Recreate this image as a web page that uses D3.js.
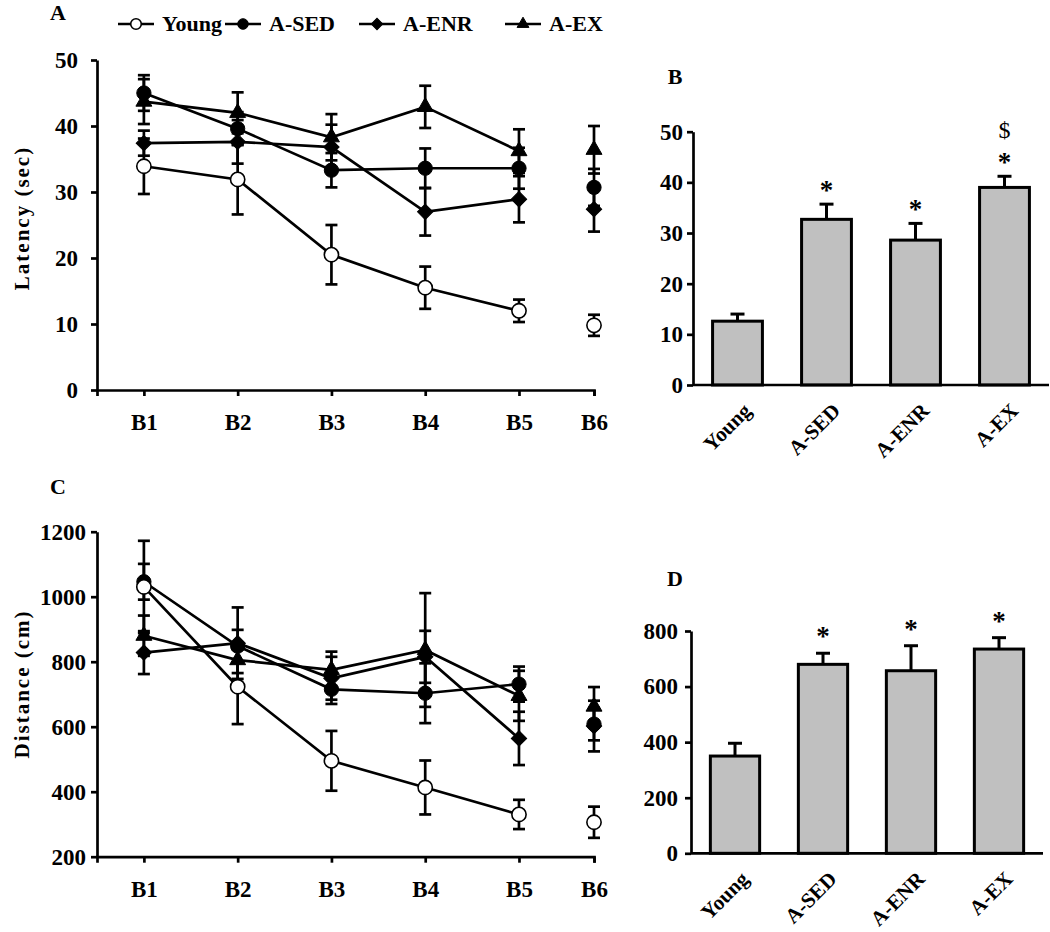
<!DOCTYPE html>
<html><head><meta charset="utf-8">
<script src="https://cdn.jsdelivr.net/npm/d3@7"></script>
<style>
body{margin:0;background:#fff}
svg text{font-family:"Liberation Serif","Times New Roman",serif;font-weight:bold;fill:#000}
</style></head><body>
<svg id="chart" width="1050" height="932"></svg>
<script>
// ---------- data ----------
const sessions = ["B1", "B2", "B3", "B4", "B5", "B6"];
const sessionPos = [1, 2, 3, 4, 5, 5.8];
const groups = ["Young", "A-SED", "A-ENR", "A-EX"];

const latencyTicks = [0, 10, 20, 30, 40, 50];
const youngLatency = [33.9, 31.9, 20.5, 15.5, 12.0, 9.8];
const youngLatencySem = [4.2, 5.3, 4.5, 3.2, 1.7, 1.6];
const sedLatency = [45.0, 39.6, 33.3, 33.6, 33.6, 30.7];
const sedLatencySem = [2.7, 2.5, 2.6, 3.0, 3.1, 2.8];
const enrLatency = [37.4, 37.6, 36.8, 27.0, 28.9, 27.4];
const enrLatencySem = [1.9, 3.3, 3.4, 3.6, 3.5, 3.4];
const exLatency = [43.7, 42.0, 38.3, 42.9, 36.2, 36.4];
const exLatencySem = [3.4, 3.1, 3.5, 3.2, 3.3, 3.6];

const distanceTicks = [200, 400, 600, 800, 1000, 1200];
const youngDistance = [1030, 723, 495, 413, 330, 306];
const youngDistanceSem = [142, 115, 92, 83, 45, 48];
const sedDistance = [1046, 848, 715, 703, 731, 608];
const sedDistanceSem = [55, 50, 45, 92, 54, 50];
const enrDistance = [828, 857, 749, 815, 564, 602];
const enrDistanceSem = [66, 110, 66, 80, 82, 78];
const exDistance = [880, 805, 775, 836, 695, 662];
const exDistanceSem = [62, 40, 56, 175, 77, 60];

const avgLatencyTicks = [0, 10, 20, 30, 40, 50];
const avgLatency = [12.6, 32.7, 28.6, 39.0];
const avgLatencySem = [1.4, 3.0, 3.3, 2.2];
const avgLatencyMark1 = ["", "*", "*", "*"];
const avgLatencyMark2 = ["", "", "", "$"];

const avgDistanceTicks = [0, 200, 400, 600, 800];
const avgDistance = [350, 680, 657, 735];
const avgDistanceSem = [46, 40, 90, 41];
const avgDistanceMark1 = ["", "*", "*", "*"];

// ---------- styles ----------
const markerTypes = ["openCircle", "circle", "diamond", "triangle"];
const SW = 2.7;
const fmt = d3.format("d");
const svg = d3.select("#chart");

function markerPath(type, big) {
  const k = big ? 1 : 0.55;
  if (type === "diamond") return d3.symbol(d3.symbolSquare, 118 * k)();
  if (type === "triangle") return d3.symbol(d3.symbolTriangle, 110 * k)();
  return d3.symbol(d3.symbolCircle, 160 * k)();
}
function drawMarker(g, type, cx, cy, big) {
  g.append("path")
    .attr("d", markerPath(type, big))
    .attr("transform", `translate(${cx},${cy})` + (type === "diamond" ? " rotate(45)" : ""))
    .attr("fill", type === "openCircle" ? "#fff" : "#000")
    .attr("stroke", "#000")
    .attr("stroke-width", type === "openCircle" ? 1.6 : 1);
}
function styleAxis(ax, fs) {
  ax.attr("font-family", null).attr("font-size", null);
  ax.selectAll("path.domain").attr("stroke-width", SW);
  ax.selectAll(".tick line").attr("stroke-width", SW);
  ax.selectAll(".tick text").style("font-size", fs + "px");
}

// ---------- line panels ----------
const x = d3.scaleLinear().domain([0.5, 5.8]).range([97, 594]);

function linePanel(y, ticks, series, title, titleY, yPad) {
  const g = svg.append("g");
  const ax = g.append("g").attr("transform", `translate(0,${y.range()[0]})`)
    .call(d3.axisBottom(x).tickValues(sessionPos).tickFormat((d, i) => sessions[i])
      .tickSize(6).tickSizeOuter(6).tickPadding(18));
  styleAxis(ax, 23);
  const ay = g.append("g").attr("transform", `translate(${x.range()[0]},0)`)
    .call(d3.axisLeft(y).tickValues(ticks).tickFormat(fmt).tickSize(6).tickSizeOuter(0).tickPadding(yPad));
  styleAxis(ay, 23);

  g.append("text")
    .attr("transform", `translate(29,${titleY}) rotate(-90)`)
    .attr("text-anchor", "middle")
    .style("font-size", "21px").style("letter-spacing", "2px")
    .text(title);

  // error bars
  series.forEach(s => {
    s.mean.forEach((m, i) => {
      const cx = x(sessionPos[i]);
      const y1 = y(m + s.sem[i]), y0 = y(m - s.sem[i]);
      g.append("line").attr("x1", cx).attr("x2", cx).attr("y1", y1).attr("y2", y0)
        .attr("stroke", "#000").attr("stroke-width", SW);
      [y1, y0].forEach(yy => g.append("line").attr("x1", cx - 6).attr("x2", cx + 6)
        .attr("y1", yy).attr("y2", yy).attr("stroke", "#000").attr("stroke-width", SW));
    });
  });
  // lines (B1-B5)
  const line = d3.line().x((d, i) => x(sessionPos[i])).y(d => y(d));
  series.forEach(s => {
    g.append("path").attr("d", line(s.mean.slice(0, 5)))
      .attr("fill", "none").attr("stroke", "#000").attr("stroke-width", SW);
  });
  // markers (open circles on top)
  [1, 2, 3, 0].forEach(k => {
    const s = series[k];
    s.mean.forEach((m, i) => drawMarker(g, markerTypes[k], x(sessionPos[i]), y(m), true));
  });
}

const yA = d3.scaleLinear().domain([0, 50]).range([390, 60]);
linePanel(yA, latencyTicks, [
  { mean: youngLatency, sem: youngLatencySem },
  { mean: sedLatency, sem: sedLatencySem },
  { mean: enrLatency, sem: enrLatencySem },
  { mean: exLatency, sem: exLatencySem }
], "Latency (sec)", 218, 13);

const yC = d3.scaleLinear().domain([200, 1200]).range([856.7, 531.7]);
linePanel(yC, distanceTicks, [
  { mean: youngDistance, sem: youngDistanceSem },
  { mean: sedDistance, sem: sedDistanceSem },
  { mean: enrDistance, sem: enrDistanceSem },
  { mean: exDistance, sem: exDistanceSem }
], "Distance (cm)", 684, 5);

// ---------- legend ----------
const legendTextX = [162, 269, 403, 549];
groups.forEach((name, k) => {
  const tx = legendTextX[k];
  const lg = svg.append("g");
  lg.append("line").attr("x1", tx - 44).attr("x2", tx - 8).attr("y1", 24).attr("y2", 24)
    .attr("stroke", "#000").attr("stroke-width", SW);
  drawMarker(lg, markerTypes[k], tx - 26, 24, false);
  lg.append("text").attr("x", tx).attr("y", 31).style("font-size", "22px").text(name);
});

// ---------- bar panels ----------
function barPanel(y, ticks, means, sems, marks1, marks2, range, yPad, markGap) {
  const g = svg.append("g");
  const xb = d3.scaleBand().domain(groups).range(range).paddingInner(0.44).paddingOuter(0.22);
  const base = y.range()[0];
  g.selectAll("rect.bar").data(means).join("rect")
    .attr("x", (d, i) => xb(groups[i])).attr("width", xb.bandwidth())
    .attr("y", d => y(d)).attr("height", d => base - y(d))
    .attr("fill", "#c0c0c0").attr("stroke", "#000").attr("stroke-width", 3);
  means.forEach((m, i) => {
    const cx = xb(groups[i]) + xb.bandwidth() / 2;
    const top = y(m + sems[i]);
    g.append("line").attr("x1", cx).attr("x2", cx).attr("y1", y(m)).attr("y2", top)
      .attr("stroke", "#000").attr("stroke-width", 3);
    g.append("line").attr("x1", cx - 7).attr("x2", cx + 7).attr("y1", top).attr("y2", top)
      .attr("stroke", "#000").attr("stroke-width", 3);
    if (marks1[i]) g.append("text").attr("x", cx).attr("y", top - markGap + 13)
      .attr("text-anchor", "middle").style("font-size", "27px").text(marks1[i]);
    if (marks2 && marks2[i]) g.append("text").attr("x", cx).attr("y", top - markGap - 20)
      .attr("text-anchor", "middle").style("font-size", "24px").style("font-weight", "normal").text(marks2[i]);
    g.append("text")
      .attr("transform", `translate(${cx + 15},${base + 27}) rotate(-45)`)
      .attr("text-anchor", "end").style("font-size", "21px").text(groups[i]);
  });
  const ay = g.append("g").attr("transform", `translate(${range[0]},0)`)
    .call(d3.axisLeft(y).tickValues(ticks).tickFormat(fmt).tickSize(6).tickSizeOuter(0).tickPadding(yPad));
  styleAxis(ay, 23);
  g.append("line").attr("x1", range[0]).attr("x2", range[1]).attr("y1", base).attr("y2", base)
    .attr("stroke", "#000").attr("stroke-width", SW);
}

const yB = d3.scaleLinear().domain([0, 50]).range([385, 131.7]);
barPanel(yB, avgLatencyTicks, avgLatency, avgLatencySem, avgLatencyMark1, avgLatencyMark2, [693, 1049], 4, 18);
const yD = d3.scaleLinear().domain([0, 800]).range([853.3, 631]);
barPanel(yD, avgDistanceTicks, avgDistance, avgDistanceSem, avgDistanceMark1, null, [691, 1043], 7, 21);

// ---------- panel letters ----------
[["A", 58, 20], ["B", 675, 84], ["C", 58, 494], ["D", 675, 586]].forEach(([t, px, py]) => {
  svg.append("text").attr("x", px).attr("y", py).attr("text-anchor", "middle")
    .style("font-size", "22px").text(t);
});
</script>
</body></html>
